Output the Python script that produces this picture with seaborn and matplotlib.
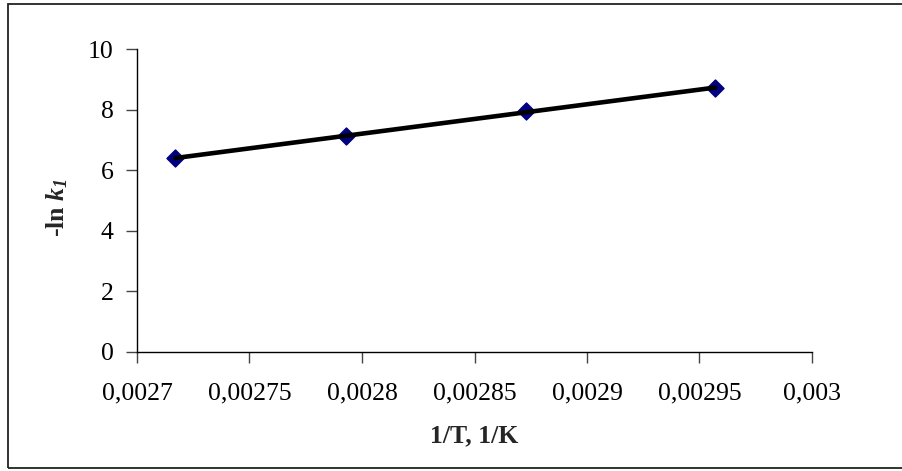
import numpy as np
import pandas as pd
import matplotlib
matplotlib.use("Agg")
import matplotlib.pyplot as plt
from matplotlib.patches import Rectangle
import seaborn as sns

# Data
inv_T = [0.002717, 0.002793, 0.002873, 0.002957]
neg_ln_k1 = [6.39, 7.13, 7.96, 8.70]
x_ticks = [0.0027, 0.00275, 0.0028, 0.00285, 0.0029, 0.00295, 0.003]
x_tick_labels = ["0,0027", "0,00275", "0,0028", "0,00285", "0,0029", "0,00295", "0,003"]
y_ticks = [0, 2, 4, 6, 8, 10]
y_tick_labels = ["0", "2", "4", "6", "8", "10"]

sns.set_theme(style="white")
plt.rcParams['font.family'] = ['Liberation Serif', 'DejaVu Serif']
plt.rcParams['mathtext.fontset'] = 'custom'
plt.rcParams['mathtext.rm'] = 'Liberation Serif'
plt.rcParams['mathtext.it'] = 'Liberation Serif:italic'
plt.rcParams['mathtext.bf'] = 'Liberation Serif:bold'
plt.rcParams['mathtext.bfit'] = 'Liberation Serif:bold:italic'

df = pd.DataFrame({"x": inv_T, "y": neg_ln_k1})
coef = np.polyfit(df["x"], df["y"], 1)
fit = pd.DataFrame({"x": [min(inv_T), max(inv_T)]})
fit["y"] = np.polyval(coef, fit["x"])

fig = plt.figure(figsize=(9.02, 4.71), dpi=100)
ax = fig.add_axes([137/902, 1-352/471, (812-137)/902, (352-49)/471])

sns.scatterplot(data=df, x="x", y="y", ax=ax, marker="D", s=75,
                color="#000080", edgecolor="#000080", linewidth=1, zorder=2)
sns.lineplot(data=fit, x="x", y="y", ax=ax, color="black", linewidth=3.3, zorder=3)

ax.set_xlim(0.0027, 0.003)
ax.set_ylim(0, 10)
ax.set_xticks(x_ticks)
ax.set_xticklabels(x_tick_labels)
ax.set_yticks(y_ticks)
ax.set_yticklabels(y_tick_labels)
ax.tick_params(axis='both', which='major', labelsize=18.5, length=8, width=1,
               color='#444444', direction='out', labelcolor='black')
ax.tick_params(axis='x', pad=14)
ax.tick_params(axis='y', pad=9)
ax.xaxis.set_ticks_position('bottom')
ax.yaxis.set_ticks_position('left')
for side in ['top', 'right']:
    ax.spines[side].set_visible(False)
for side in ['left', 'bottom']:
    ax.spines[side].set_color('black')
    ax.spines[side].set_linewidth(1)
ax.set_xlabel("")
ax.set_ylabel("")
ax.grid(False)

fig.text(474/902, 1-436/471, "1/T, 1/K", fontsize=18.5, fontweight='bold',
         ha='center', va='center')
fig.text(57/902, 1-208/471, r"-ln $\mathbfit{k}_{\mathbfit{1}}$", fontsize=18.5,
         fontweight='bold', rotation=90, ha='center', va='center')

fig.patches.append(Rectangle((8/902, 1-468/471), 1.0, (468-4)/471,
                             transform=fig.transFigure, fill=False,
                             edgecolor='#222222', linewidth=1.3))

fig.savefig("out.png", dpi=100)
